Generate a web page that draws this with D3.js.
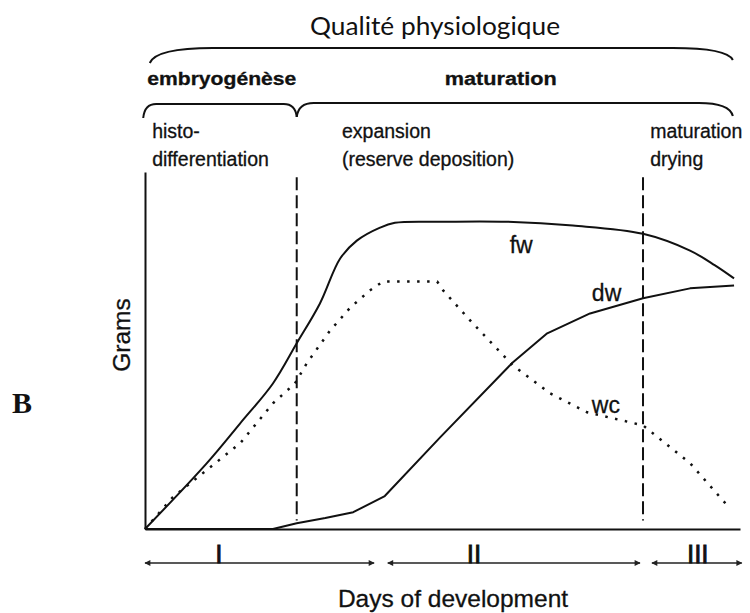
<!DOCTYPE html>
<html>
<head>
<meta charset="utf-8">
<script src="https://cdn.jsdelivr.net/npm/d3@7"></script>
<style>
  body { margin: 0; background: #fff; }
  svg { display: block; }
  text { fill: #111; stroke: #111; stroke-width: 0.3; font-family: "Liberation Sans", Arial, sans-serif; }
  .curve { fill: none; stroke: #111; stroke-width: 2; stroke-linejoin: round; }
  .wc { stroke-dasharray: 2.5, 7.5; stroke-width: 2.5; }
  .phase-line { stroke: #111; stroke-width: 2; stroke-dasharray: 13, 5; }
  .brace { fill: none; stroke: #111; stroke-width: 2; }
  .axis path { stroke: #111; stroke-width: 2; }
  .arrow { stroke: #222; stroke-width: 1.5; }
</style>
</head>
<body>
<svg width="750" height="613"></svg>
<script>
// fresh weight
var fwDays  = [0, 10.4, 16.0, 21.5, 25.5, 29.4, 32.8, 35.6, 39.5, 42.0, 49.6, 60.8, 71.9, 83.7, 91.6, 95.8, 99];
var fwGrams = [0, 19.2, 30.8, 42.4, 54.1, 65.7, 78.8, 84.0, 87.8, 89.2, 89.5, 89.5, 88.4, 86.0, 81.1, 76.8, 73.0];
// dry weight
var dwDays  = [0, 21.5, 25.5, 30.3, 35.0, 40.3, 49.6, 61.8, 67.6, 74.8, 83.7, 91.6, 99];
var dwGrams = [0, 0, 1.7, 3.2, 4.9, 9.6, 26.7, 48.5, 57.0, 62.8, 67.2, 70.1, 70.9];
// water content
var wcDays  = [0, 4.7, 10.4, 16.0, 21.5, 25.2, 27.2, 31.1, 34.5, 37.8, 40.0, 49.1, 50.1, 55.1, 61.8, 68.1, 74.3, 83.7, 91.6, 97.8];
var wcGrams = [0, 9.3, 17.2, 25.0, 36.6, 42.4, 48.3, 57.8, 64.5, 69.5, 72.1, 72.1, 69.5, 59.9, 47.7, 39.5, 34.0, 30.2, 19.2, 7.0];

var curveNames = ["fw", "dw", "wc"];
var curveLabelDays = [61.3, 75.1, 75.1];
var curveLabelGrams = [80.4, 66.4, 33.8];

// phase boundaries (dashed lines)
var phaseBounds = [25.5, 83.7];

var headerNames = ["embryogénèse", "maturation"];
var headerDays = [12.9, 59.8];
var headerWidths = [149, 112];

var stageLines = [["histo-", "differentiation"], ["expansion", "(reserve deposition)"], ["maturation", "drying"]];
var stageDays = [1.2, 33.1, 84.9];

var phaseNames = ["I", "II", "III"];
var phaseFrom = [0, 40.8, 85.2];
var phaseTo = [38.5, 83.2, 100.3];
var phaseMid = [12.4, 55.3, 92.9];

var svg = d3.select("svg");
var g = svg.append("g");

var xScale = d3.scaleLinear().domain([0, 100]).range([145, 740]);
var yScale = d3.scaleLinear().domain([0, 104]).range([529, 172]);

// arrow heads
var defs = svg.append("defs");
defs.append("marker")
  .attr("id", "head")
  .attr("viewBox", "0 0 10 10")
  .attr("refX", 9).attr("refY", 5)
  .attr("markerWidth", 5).attr("markerHeight", 4)
  .attr("markerUnits", "strokeWidth")
  .attr("orient", "auto-start-reverse")
  .append("path")
    .attr("d", "M0,0L10,5L0,10z")
    .attr("fill", "#222");

// title
g.append("text")
  .attr("x", 435)
  .attr("y", 35)
  .attr("text-anchor", "middle")
  .attr("textLength", 250)
  .attr("lengthAdjust", "spacingAndGlyphs")
  .style("font-family", "Lato, 'Open Sans', sans-serif")
  .style("font-size", "25px")
  .style("stroke-width", 0)
  .text("Qualité physiologique");

// braces
function brace(x0, x1, yFlat, y0, y1, r0, r1) {
  var p = d3.path();
  p.moveTo(x0, y0);
  p.quadraticCurveTo(x0 + r0 * 0.1, yFlat, x0 + r0, yFlat);
  p.lineTo(x1 - r1, yFlat);
  p.quadraticCurveTo(x1 - r1 * 0.1, yFlat, x1, y1);
  return p.toString();
}
g.append("path").attr("class", "brace")
  .attr("d", brace(xScale(0.8), xScale(98.8), 48, 63, 60, 63, 60));
g.append("path").attr("class", "brace")
  .attr("d", brace(xScale(-0.3), xScale(phaseBounds[0]), 104, 118, 117, 13, 13));
g.append("path").attr("class", "brace")
  .attr("d", brace(xScale(phaseBounds[0]), xScale(98.8), 103, 117, 116, 17, 34));

// headers
g.selectAll(".header")
  .data(headerNames)
  .enter().append("text")
    .attr("class", "header")
    .attr("x", (d, i) => xScale(headerDays[i]))
    .attr("y", 85)
    .attr("text-anchor", "middle")
    .attr("textLength", (d, i) => headerWidths[i])
    .attr("lengthAdjust", "spacingAndGlyphs")
    .style("font-size", "18px")
    .style("font-weight", "bold")
    .text(d => d);

// stage labels
stageLines.forEach(function(lines, i) {
  lines.forEach(function(s, j) {
    g.append("text")
      .attr("x", xScale(stageDays[i]))
      .attr("y", 138 + j * 28)
      .style("font-size", "19.5px")
      .text(s);
  });
});

// axes
g.append("g")
  .attr("class", "axis axis--x")
  .attr("transform", `translate(0,${yScale(0)})`)
  .call(d3.axisBottom(xScale).ticks(0).tickSizeOuter(0));

g.append("g")
  .attr("class", "axis axis--y")
  .attr("transform", `translate(${xScale(0)},0)`)
  .call(d3.axisLeft(yScale).ticks(0).tickSizeOuter(0));

// dashed phase lines
g.selectAll(".phase-line")
  .data(phaseBounds)
  .enter().append("line")
    .attr("class", "phase-line")
    .attr("x1", d => xScale(d)).attr("x2", d => xScale(d))
    .attr("y1", yScale(102.5)).attr("y2", yScale(2.5));

// curves
var smooth = d3.line()
  .x(d => xScale(d[0]))
  .y(d => yScale(d[1]))
  .curve(d3.curveCatmullRom.alpha(0.5));
var straight = d3.line()
  .x(d => xScale(d[0]))
  .y(d => yScale(d[1]));

var series = [
  [d3.zip(fwDays, fwGrams), "curve fw", smooth],
  [d3.zip(dwDays, dwGrams), "curve dw", straight],
  [d3.zip(wcDays, wcGrams), "curve wc", straight]
];
series.forEach(function(s) {
  g.append("path")
    .datum(s[0])
    .attr("class", s[1])
    .attr("d", s[2]);
});

g.selectAll(".curve-label")
  .data(curveNames)
  .enter().append("text")
    .attr("class", "curve-label")
    .attr("x", (d, i) => xScale(curveLabelDays[i]))
    .attr("y", (d, i) => yScale(curveLabelGrams[i]))
    .style("font-size", "23px")
    .text(d => d);

// y label
g.append("text")
  .attr("transform", "translate(130,335) rotate(-90)")
  .attr("text-anchor", "middle")
  .style("font-size", "24.5px")
  .text("Grams");

// panel letter
g.append("text")
  .attr("x", 12)
  .attr("y", 413)
  .style("font-family", "'Liberation Serif', 'Times New Roman', serif")
  .style("font-size", "30px")
  .style("font-weight", "bold")
  .style("stroke-width", 0)
  .text("B");

// phase arrows
var arrowY = 563;
g.selectAll(".arrow")
  .data(phaseNames)
  .enter().append("line")
    .attr("class", "arrow")
    .attr("x1", (d, i) => xScale(phaseFrom[i]))
    .attr("x2", (d, i) => xScale(phaseTo[i]))
    .attr("y1", arrowY).attr("y2", arrowY)
    .attr("marker-start", "url(#head)")
    .attr("marker-end", "url(#head)");

g.selectAll(".phase-name")
  .data(phaseNames)
  .enter().append("text")
    .attr("class", "phase-name")
    .attr("x", (d, i) => xScale(phaseMid[i]))
    .attr("y", arrowY)
    .attr("text-anchor", "middle")
    .style("font-size", "26px")
    .style("stroke-width", 0.8)
    .text(d => d);

// x label
g.append("text")
  .attr("x", 453)
  .attr("y", 607)
  .attr("text-anchor", "middle")
  .style("font-size", "24.5px")
  .text("Days of development");
</script>
</body>
</html>
